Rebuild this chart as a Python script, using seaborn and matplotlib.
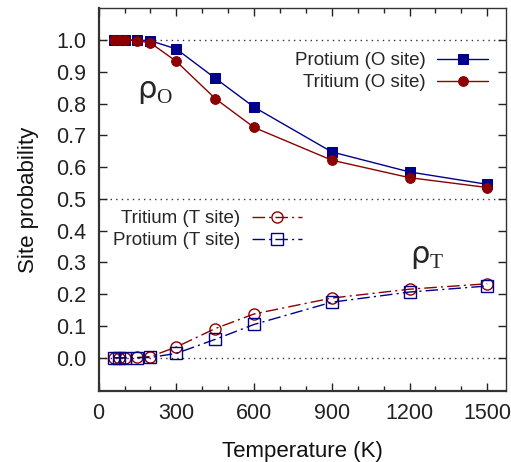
import numpy as np
import pandas as pd
import matplotlib
matplotlib.use("Agg")
import matplotlib.pyplot as plt
import seaborn as sns
from matplotlib.ticker import MultipleLocator

temperature = [60, 80, 100, 150, 200, 300, 450, 600, 900, 1200, 1500]
protium_O = [1.0, 1.0, 1.0, 1.0, 0.998, 0.972, 0.880, 0.789, 0.648, 0.585, 0.546]
tritium_O = [1.0, 1.0, 1.0, 0.998, 0.991, 0.933, 0.816, 0.725, 0.622, 0.567, 0.536]
tritium_T = [0.0, 0.0, 0.0, 0.001, 0.004, 0.034, 0.092, 0.138, 0.188, 0.216, 0.233]
protium_T = [0.0, 0.0, 0.0, 0.0, 0.001, 0.014, 0.058, 0.105, 0.175, 0.207, 0.226]

xticks = [0, 300, 600, 900, 1200, 1500]
yticks = [0.0, 0.1, 0.2, 0.3, 0.4, 0.5, 0.6, 0.7, 0.8, 0.9, 1.0]

sns.set_style("ticks")
plt.rcParams["font.family"] = ["Liberation Sans", "DejaVu Sans"]
plt.rcParams["mathtext.fontset"] = "custom"
plt.rcParams["mathtext.rm"] = "Liberation Serif"
plt.rcParams["mathtext.sf"] = "DejaVu Sans"

BLUE = "#00008b"
RED = "#8b0000"

fig = plt.figure(figsize=(5.11, 4.62), dpi=100)
ax = fig.add_axes([0.193, 0.154, 0.797, 0.828])

df = pd.DataFrame({"T": temperature, "pO": protium_O, "tO": tritium_O,
                   "tT": tritium_T, "pT": protium_T})

dashdot = (0, (9, 3, 1.5, 3))
sns.lineplot(data=df, x="T", y="pO", ax=ax, color=BLUE, lw=1.0, marker="s",
             markersize=7.5, markeredgecolor=BLUE, markerfacecolor=BLUE,
             label="Protium (O site)")
sns.lineplot(data=df, x="T", y="tO", ax=ax, color=RED, lw=1.0, marker="o",
             markersize=7, markeredgecolor=RED, markerfacecolor=RED,
             label="Tritium (O site)")
sns.lineplot(data=df, x="T", y="tT", ax=ax, color=RED, lw=1.0, marker="o",
             markersize=8, markeredgecolor=RED, markerfacecolor="none",
             markeredgewidth=1.0, linestyle=dashdot, label="Tritium (T site)")
sns.lineplot(data=df, x="T", y="pT", ax=ax, color=BLUE, lw=1.0, marker="s",
             markersize=8, markeredgecolor=BLUE, markerfacecolor="none",
             markeredgewidth=1.0, linestyle=dashdot, label="Protium (T site)")

for yv in [0.0, 0.5, 1.0]:
    ax.axhline(yv, color="#333333", lw=1.0, ls=(0, (1, 3)), zorder=0)

ax.set_xlim(0, 1572)
ax.set_ylim(-0.104, 1.1)
ax.set_xticks(xticks)
ax.set_yticks(yticks)
ax.set_yticklabels([f"{v:.1f}" for v in yticks])
ax.xaxis.set_minor_locator(MultipleLocator(100))
ax.tick_params(axis="both", which="major", direction="in", length=6, width=1,
               top=True, right=True, labelsize=15.5, pad=9, colors="#222222")
ax.tick_params(axis="x", which="minor", direction="in", length=3.5, width=1,
               top=True)
for s in ["left", "bottom"]:
    ax.spines[s].set_linewidth(1.6)
    ax.spines[s].set_color("#333333")
for s in ["top", "right"]:
    ax.spines[s].set_linewidth(1.0)
    ax.spines[s].set_color("#333333")

ax.set_xlabel("Temperature (K)", fontsize=16, labelpad=12, color="#111111")
ax.set_ylabel("Site probability", fontsize=16, labelpad=12, color="#111111")

handles, labels = ax.get_legend_handles_labels()
leg1 = ax.legend(handles[:2], labels[:2], loc="upper right",
                 bbox_to_anchor=(0.956, 0.885), frameon=False,
                 markerfirst=False, fontsize=13.5, handlelength=2.7,
                 handletextpad=0.6, borderaxespad=0, borderpad=0,
                 labelspacing=0.25)
ax.add_artist(leg1)
ax.legend(handles[2:], labels[2:], loc="upper right",
          bbox_to_anchor=(0.50, 0.472), frameon=False,
          markerfirst=False, fontsize=13.5, handlelength=2.7,
          handletextpad=0.6, borderaxespad=0, borderpad=0,
          labelspacing=0.25)

ax.text(150, 0.84, r"$\mathsf{\rho}_\mathrm{O}$", fontsize=22, ha="left",
        va="center")
ax.text(1200, 0.32, r"$\mathsf{\rho}_\mathrm{T}$", fontsize=22, ha="left",
        va="center")

fig.savefig("out.png", dpi=100)
